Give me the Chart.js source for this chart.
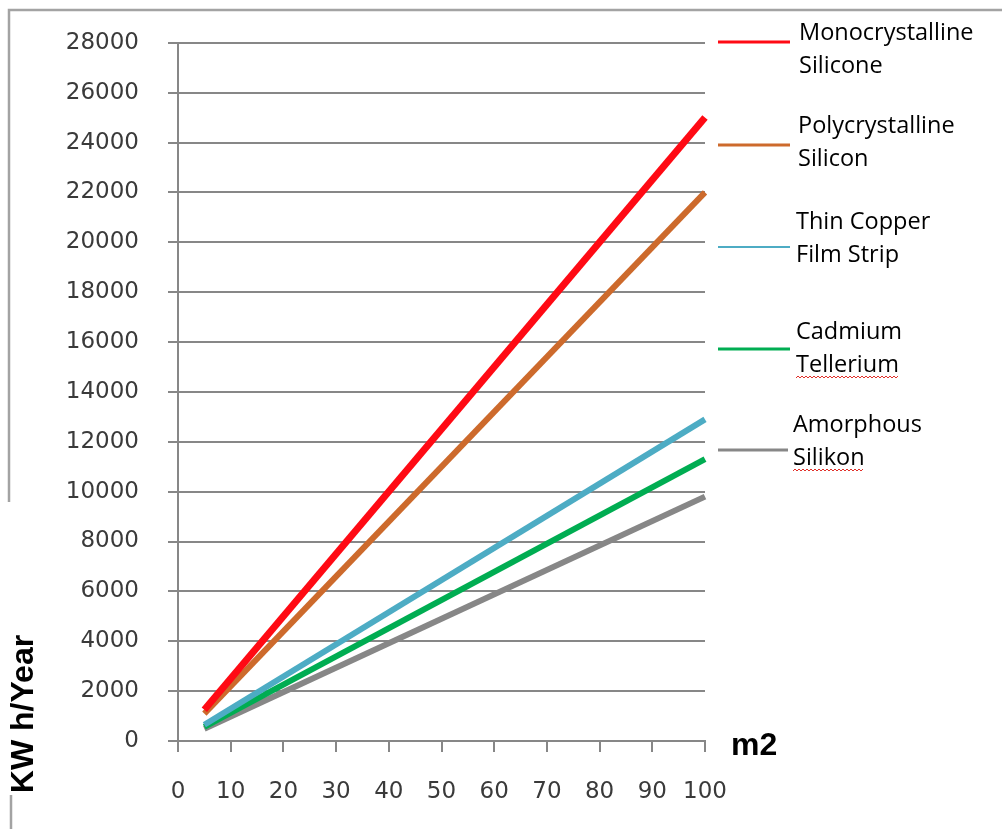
<!DOCTYPE html>
<html>
<head>
<meta charset="utf-8">
<title>Solar panel yield by area</title>
<script src="https://cdn.jsdelivr.net/npm/chart.js@4.4.1/dist/chart.umd.min.js"></script>
<style>
  html, body { margin: 0; padding: 0; background: #ffffff; }
  canvas { display: block; }
</style>
</head>
<body>
<canvas id="chart" width="1002" height="829"></canvas>
<script>
// Panel area in m2 (start and end of each line)
const area = [5, 100];

// Yearly yield in KW h for each panel type
const monocrystalline = [1250, 25000];
const polycrystalline = [1100, 22000];
const thinCopperFilm  = [650, 12900];
const cadmiumTellur   = [570, 11300];
const amorphous       = [490, 9800];

// Series names, split over two lines as in the side legend
const seriesNames = [
  ["Monocrystalline", "Silicone"],
  ["Polycrystalline", "Silicon"],
  ["Thin Copper", "Film Strip"],
  ["Cadmium", "Tellerium"],
  ["Amorphous", "Silikon"]
];

// Axis tick labels
const xTicks = [0, 10, 20, 30, 40, 50, 60, 70, 80, 90, 100];
const yTicks = [0, 2000, 4000, 6000, 8000, 10000, 12000, 14000, 16000, 18000, 20000, 22000, 24000, 26000, 28000];

const seriesValues = [monocrystalline, polycrystalline, thinCopperFilm, cadmiumTellur, amorphous];
const seriesColors = ["#ff0a14", "#cd6a2c", "#4dacc4", "#00ad52", "#878787"];
const seriesWidths = [7, 6, 6, 6, 6];

const datasets = seriesValues.map((vals, i) => ({
  label: seriesNames[i].join(" "),
  data: area.map((x, j) => ({ x: x, y: vals[j] })),
  borderColor: seriesColors[i],
  backgroundColor: seriesColors[i],
  borderWidth: seriesWidths[i],
  borderCapStyle: "butt",
  pointRadius: 0,
  tension: 0,
  clip: false
}));

const GRID = "#878787";
const TICK_TEXT = "#3a3a3a";

// Thin frame lines around the figure
const framePlugin = {
  id: "frame",
  beforeDraw(chart) {
    const ctx = chart.ctx;
    ctx.save();
    ctx.strokeStyle = "#a3a3a3";
    ctx.lineWidth = 2.5;
    ctx.beginPath();
    ctx.moveTo(9, 502);
    ctx.lineTo(9, 10);
    ctx.lineTo(1002, 10);
    ctx.moveTo(11, 795);
    ctx.lineTo(11, 829);
    ctx.stroke();
    ctx.restore();
  }
};

// Side legend and axis captions
const legendLayout = [
  { lineY: 42,  lineW: 3, x1: 718, x2: 790, textX: 799, textY: 33 },
  { lineY: 145, lineW: 3, x1: 718, x2: 790, textX: 798, textY: 126 },
  { lineY: 247, lineW: 2, x1: 718, x2: 790, textX: 796, textY: 222 },
  { lineY: 349, lineW: 3, x1: 718, x2: 790, textX: 796, textY: 332 },
  { lineY: 450, lineW: 3, x1: 718, x2: 788, textX: 793, textY: 425 }
];
const misspelled = ["Tellerium", "Silikon"];

const annotatePlugin = {
  id: "annotate",
  afterDraw(chart) {
    const ctx = chart.ctx;
    ctx.save();
    // legend entries
    ctx.font = "23.5px 'Open Sans'";
    ctx.textBaseline = "middle";
    ctx.textAlign = "left";
    chart.data.datasets.forEach((ds, i) => {
      const L = legendLayout[i];
      ctx.strokeStyle = ds.borderColor;
      ctx.lineWidth = L.lineW;
      ctx.beginPath();
      ctx.moveTo(L.x1, L.lineY);
      ctx.lineTo(L.x2, L.lineY);
      ctx.stroke();
      ctx.fillStyle = "#000000";
      seriesNames[i].forEach((line, k) => {
        const y = L.textY + k * 33;
        ctx.fillText(line, L.textX, y);
        if (misspelled.includes(line)) {
          // spell-check squiggle under the word
          const w = ctx.measureText(line).width;
          ctx.strokeStyle = "#e0302a";
          ctx.lineWidth = 1;
          ctx.beginPath();
          let up = false;
          for (let x = L.textX; x <= L.textX + w; x += 2) {
            const yy = y + 12 + (up ? -1 : 1);
            if (x === L.textX) ctx.moveTo(x, yy); else ctx.lineTo(x, yy);
            up = !up;
          }
          ctx.stroke();
        }
      });
    });
    // axis captions
    ctx.fillStyle = "#000000";
    ctx.font = "bold 32px 'Liberation Sans'";
    ctx.textAlign = "left";
    ctx.fillText("m2", 731, 746);
    ctx.translate(24, 714);
    ctx.rotate(-Math.PI / 2);
    ctx.textAlign = "center";
    ctx.font = "bold 32px 'Liberation Sans'";
    ctx.fillText("KW h/Year", 0, 0);
    ctx.restore();
  }
};

new Chart(document.getElementById("chart"), {
  type: "line",
  data: { datasets: datasets },
  plugins: [framePlugin, annotatePlugin],
  options: {
    responsive: false,
    animation: false,
    events: [],
    layout: { padding: { top: 41, right: 297, bottom: 0, left: 0 } },
    plugins: {
      legend: { display: false },
      tooltip: { enabled: false },
      title: { display: false }
    },
    scales: {
      x: {
        type: "linear",
        min: 0,
        max: 100,
        afterBuildTicks(scale) { scale.ticks = xTicks.map(v => ({ value: v })); },
        afterFit(scale) { scale.height = 88; },
        grid: {
          display: true,
          drawOnChartArea: false,
          drawTicks: true,
          tickLength: 11,
          color: GRID,
          lineWidth: 2
        },
        border: { display: true, color: GRID, width: 2 },
        ticks: {
          padding: 26,
          color: TICK_TEXT,
          font: { family: "'DejaVu Sans'", size: 23 },
          maxRotation: 0,
          autoSkip: false,
          callback: v => String(v)
        }
      },
      y: {
        type: "linear",
        min: 0,
        max: 28000,
        afterBuildTicks(scale) { scale.ticks = yTicks.map(v => ({ value: v })); },
        afterFit(scale) { scale.width = 178; },
        grid: {
          display: true,
          drawOnChartArea: true,
          drawTicks: true,
          tickLength: 10,
          color: GRID,
          lineWidth: 2
        },
        border: { display: true, color: GRID, width: 2 },
        ticks: {
          padding: 29,
          color: TICK_TEXT,
          font: { family: "'DejaVu Sans'", size: 23 },
          autoSkip: false,
          callback: v => String(v)
        }
      }
    }
  }
});
</script>
</body>
</html>
